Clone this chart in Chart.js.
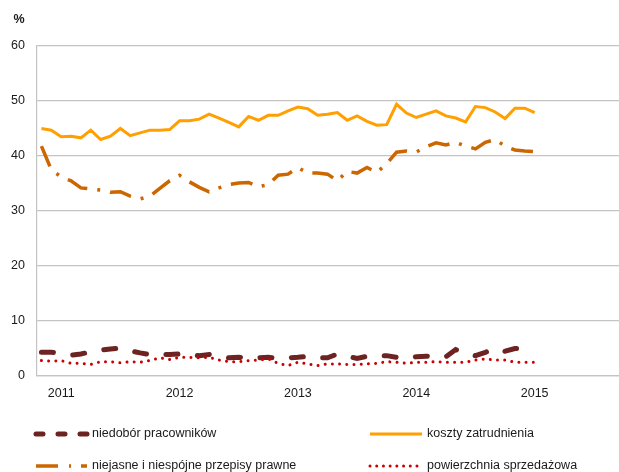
<!DOCTYPE html>
<html>
<head>
<meta charset="utf-8">
<script src="https://cdn.jsdelivr.net/npm/chart.js@4.4.1/dist/chart.umd.min.js"></script>
<style>
  html, body { margin:0; padding:0; background:#fff; }
  #chart { display:block; }
</style>
</head>
<body>
<canvas id="chart" width="619" height="472"></canvas>
<script>
// monthly survey shares (%), Nov 2010 .. Jan 2015, index = month number
const yearLabels = ['2011','2012','2013','2014','2015'];
const yearPos = [2, 14, 26, 38, 50];

const niedobor = [4.3,4.3,4.1,3.8,4.0,4.4,4.7,4.9,5.1,4.6,4.2,3.9,3.9,3.9,4.0,3.9,3.7,3.9,3.6,3.3,
  3.4,3.3,3.3,3.4,3.2,3.3,3.4,3.6,3.3,3.3,4.0,3.6,3.2,3.6,3.7,3.7,3.4,3.2,3.5,3.6,
  3.5,3.5,4.8,4.2,3.7,4.3,5.0,4.5,5.0,5.0,4.9];
const koszty = [45.0,44.7,43.5,43.6,43.3,44.7,43.0,43.6,45.0,43.7,44.2,44.7,44.7,44.8,46.4,46.4,46.7,47.6,46.9,46.1,
  45.3,47.2,46.5,47.4,47.4,48.2,48.9,48.6,47.4,47.6,47.9,46.5,47.3,46.3,45.6,45.7,49.4,47.8,47.0,47.6,
  48.2,47.3,46.9,46.2,49.0,48.8,48.0,46.8,48.7,48.7,47.9];
const niejasne = [41.8,37.5,36.2,35.5,34.2,34.0,33.8,33.4,33.5,32.7,32.2,32.7,34.1,35.5,36.5,35.3,34.3,33.5,34.2,34.8,
  35.1,35.2,34.4,34.8,36.5,36.7,37.9,36.9,36.9,36.7,35.5,37.2,36.9,37.9,37.0,38.6,40.7,40.9,40.7,41.7,
  42.4,42.0,42.5,41.8,41.3,42.5,43.0,41.8,41.1,40.9,40.8];
const powierzchnia = [2.8,2.7,2.8,2.3,2.3,2.1,2.6,2.6,2.4,2.6,2.5,2.8,3.3,3.0,3.4,3.4,3.3,3.4,2.9,2.6,
  2.6,2.8,2.9,3.1,2.3,1.9,2.5,2.2,1.9,2.2,2.2,2.1,2.1,2.2,2.3,2.6,2.5,2.3,2.5,2.5,
  2.6,2.5,2.5,2.5,2.9,3.1,2.9,2.9,2.5,2.5,2.5];

const seriesNames = ['niedobór pracowników','koszty zatrudnienia','niejasne i niespójne przepisy prawne','powierzchnia sprzedażowa'];

const FONT = '"Liberation Sans", Arial, sans-serif';
const GRID = '#c4c4c4';

function pts(arr){ return arr.map((v,i)=>({x:i, y:v})); }

const datasets = [
  { label: seriesNames[2], data: pts(niejasne), borderColor:'#cc6600', borderWidth:3.5,
    borderDash:[22,10,3,10], borderCapStyle:'butt',
    legend:{ dash:[22,11,2,10], cap:'butt', col:0, row:1 } },
  { label: seriesNames[1], data: pts(koszty), borderColor:'#ff9f00', borderWidth:3,
    borderDash:[], borderCapStyle:'butt',
    legend:{ dash:[], cap:'butt', col:1, row:0 } },
  { label: seriesNames[3], data: pts(powierzchnia), borderColor:'#cc0000', borderWidth:3,
    borderDash:[0.01,7.2], borderCapStyle:'round',
    legend:{ dash:[0.01,6.7], cap:'round', col:1, row:1 } },
  { label: seriesNames[0], data: pts(niedobor), borderColor:'#6e2323', borderWidth:5,
    borderDash:[12,19.5], borderCapStyle:'round',
    legend:{ dash:[7,15], cap:'round', col:0, row:0 } }
];
datasets.forEach(d => { d.pointRadius = 0; d.tension = 0; d.fill = false; });

// legend drawn in the space under the x axis, two columns
const legendPlugin = {
  id:'legendBox',
  afterDraw(chart){
    const ctx = chart.ctx;
    const colX = [[36,87,92],[370,422,427]];
    const rowY = [434,466];
    ctx.save();
    chart.data.datasets.forEach(ds => {
      const lg = ds.legend;
      const [x0,x1,tx] = colX[lg.col];
      const y = rowY[lg.row];
      ctx.beginPath();
      ctx.strokeStyle = ds.borderColor;
      ctx.lineWidth = ds.borderWidth;
      ctx.lineCap = lg.cap;
      ctx.setLineDash(lg.dash);
      ctx.moveTo(x0, y); ctx.lineTo(x1, y);
      ctx.stroke();
      ctx.setLineDash([]);
      ctx.fillStyle = '#1a1a1a';
      ctx.font = '12.5px ' + FONT;
      ctx.textBaseline = 'middle';
      ctx.textAlign = 'left';
      ctx.fillText(ds.label, tx, y);
    });
    // unit label
    ctx.font = 'bold 12.5px ' + FONT;
    ctx.fillStyle = '#1a1a1a';
    ctx.textAlign = 'center';
    ctx.fillText('%', 19, 20);
    ctx.restore();
  }
};

new Chart(document.getElementById('chart').getContext('2d'), {
  type:'line',
  data:{ datasets },
  options:{
    responsive:false,
    animation:false,
    layout:{ padding:{ top:46, left:0, right:0, bottom:0 } },
    plugins:{ legend:{ display:false }, tooltip:{ enabled:false } },
    scales:{
      x:{
        type:'linear', min:-0.45, max:58.55,
        grid:{ display:false, drawTicks:false },
        border:{ display:true, color:GRID, width:1.2 },
        afterBuildTicks(axis){ axis.ticks = yearPos.map(v => ({ value:v })); },
        afterFit(axis){ axis.height = 96; },
        ticks:{ padding:10, maxRotation:0, autoSkip:false, color:'#1a1a1a',
          font:{ family:FONT, size:12.5 },
          callback:(v,i) => yearLabels[i] }
      },
      y:{
        min:0, max:60,
        grid:{ color:GRID, lineWidth:1.2, drawTicks:false },
        border:{ display:true, color:GRID, width:1.2 },
        afterFit(axis){ axis.width = 37; },
        ticks:{ stepSize:10, padding:12, color:'#1a1a1a', font:{ family:FONT, size:12.5 } }
      }
    }
  },
  plugins:[legendPlugin]
});
</script>
</body>
</html>
